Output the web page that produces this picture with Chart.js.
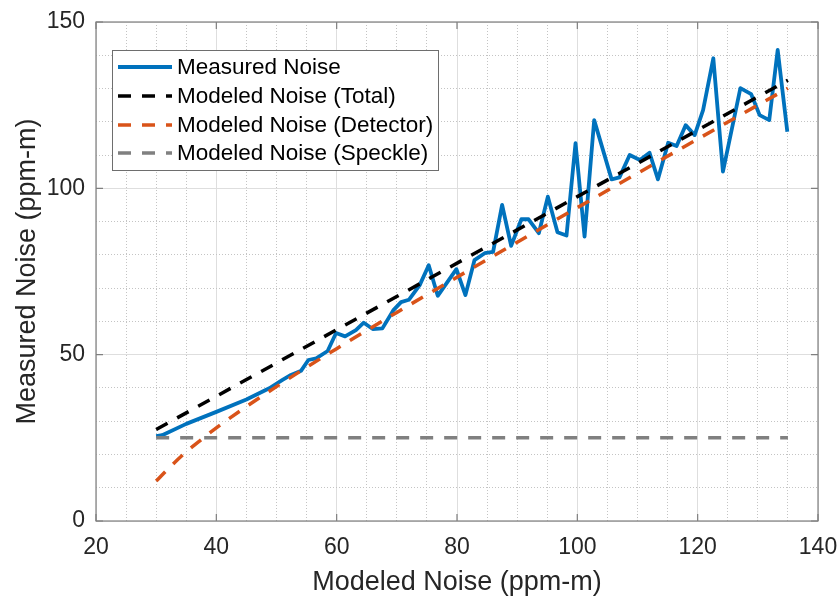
<!DOCTYPE html>
<html>
<head>
<meta charset="utf-8">
<script src="https://cdn.jsdelivr.net/npm/chart.js"></script>
<style>
  body { margin: 0; background: #fff; }
  #wrap { width: 838px; height: 599px; }
</style>
</head>
<body>
<div id="wrap"><canvas id="noiseChart" width="838" height="599"></canvas></div>
<script>
//===========================================================================================
// ~~ DATA ~~

var measuredX = [30, 31, 35, 40, 45, 48.8, 51, 52.4, 54.1, 55.3, 56.6, 58.5, 59.9, 61.4, 63.2,
  64.5, 66, 67.6, 69.4, 70.7, 72, 73.8, 75.3, 76.8, 79.9, 81.4, 82.9, 84.6, 86, 87.5,
  89, 90.7, 91.9, 93.6, 95.1, 96.7, 98.2, 99.7, 101.2, 102.8, 105.7, 107, 108.7, 110.4, 112,
  113.4, 115.1, 116.5, 118, 119.5, 120.9, 122.6, 124.2, 127.1, 128.9, 130.3, 131.9, 133.3, 134.9];
var measuredY = [25.5, 25.8, 29.2, 32.8, 36.5, 39.9, 42.4, 43.9, 45.2, 48.4, 48.9, 51.1, 56.5, 55.5, 57.4,
  59.6, 57.7, 57.9, 63.3, 65.8, 66.5, 70.9, 76.9, 67.7, 75.7, 67.9, 78.4, 80.5, 80.9, 95.0,
  82.7, 90.7, 90.7, 86.5, 97.5, 86.8, 85.8, 113.6, 85.5, 120.5, 102.7, 103.3, 110.0, 108.5, 110.7,
  102.7, 113.7, 112.7, 119.0, 116.0, 123.5, 139.1, 105.0, 130.1, 128.3, 122.0, 120.5, 141.6, 117.0];

var totalX = [30, 60, 100, 135];
var totalY = [27.5, 57.5, 97.5, 132.5];

var detectorX = [30, 32, 35, 38, 40, 45, 50, 55, 60, 70, 80, 90, 100, 120, 135];
var detectorY = [12, 15.7, 20.8, 25.2, 28.0, 34.4, 40.4, 46.2, 51.8, 62.7, 73.3, 83.8, 94.2, 114.8, 130.1];

var speckleX = [30, 135];
var speckleY = [25, 25];

var xTicks = [20, 40, 60, 80, 100, 120, 140];
var yTicks = [0, 50, 100, 150];

var seriesLabels = ["Measured Noise", "Modeled Noise (Total)", "Modeled Noise (Detector)", "Modeled Noise (Speckle)"];


//===========================================================================================
// ~~ HELPERS ~~

var FONT = "'Liberation Sans', Arial, Helvetica, sans-serif";
var TXT = '#262626';
var DASH = [13, 11];

function toPoints(xs, ys){
  var pts = [];
  for(var i = 0; i < xs.length; i++){
    pts.push({x: xs[i], y: ys[i]});
  }
  return pts;
}

function isMajor(ctx, list){
  return ctx.tick && list.indexOf(ctx.tick.value) >= 0;
}

// box round the axes + inward ticks, like matlab
var axesBox = {
  id: 'axesBox',
  afterDatasetsDraw: function(chart){
    var c = chart.ctx, a = chart.chartArea;
    var sx = chart.scales.x, sy = chart.scales.y;
    c.save();
    c.strokeStyle = '#7f7f7f';
    c.lineWidth = 1.2;
    c.setLineDash([]);
    c.strokeRect(a.left, a.top, a.right - a.left, a.bottom - a.top);
    c.beginPath();
    xTicks.forEach(function(v){
      var px = sx.getPixelForValue(v);
      c.moveTo(px, a.bottom); c.lineTo(px, a.bottom - 7);
      c.moveTo(px, a.top); c.lineTo(px, a.top + 7);
    });
    yTicks.forEach(function(v){
      var py = sy.getPixelForValue(v);
      c.moveTo(a.left, py); c.lineTo(a.left + 7, py);
      c.moveTo(a.right, py); c.lineTo(a.right - 7, py);
    });
    c.stroke();
    c.restore();
  }
};

// legend inside the axes, white box with frame
var boxLegend = {
  id: 'boxLegend',
  afterDraw: function(chart){
    var c = chart.ctx;
    var left = 112.5, top = 50.5, w = 326, h = 120;
    var rowY = [67, 96, 125, 153];
    c.save();
    c.fillStyle = '#fff';
    c.fillRect(left, top, w, h);
    c.strokeStyle = '#6e6e6e';
    c.lineWidth = 1;
    c.strokeRect(left, top, w, h);
    c.font = '22.5px ' + FONT;
    c.textBaseline = 'middle';
    c.textAlign = 'left';
    chart.data.datasets.forEach(function(ds, i){
      c.beginPath();
      c.strokeStyle = ds.borderColor;
      c.lineWidth = ds.borderWidth;
      c.lineCap = 'butt';
      c.setLineDash(ds.borderDash || []);
      c.moveTo(118, rowY[i]);
      c.lineTo(172, rowY[i]);
      c.stroke();
      c.setLineDash([]);
      c.fillStyle = '#000';
      c.fillText(ds.label, 177, rowY[i] + 1);
    });
    c.restore();
  }
};


//===========================================================================================
// ~~ CHART ~~

new Chart(document.getElementById('noiseChart'), {
  type: 'line',
  data: {
    datasets: [{
      label: seriesLabels[0],
      data: toPoints(measuredX, measuredY),
      borderColor: '#0072BD',
      borderWidth: 3.8,
      order: 4
    }, {
      label: seriesLabels[1],
      data: toPoints(totalX, totalY),
      borderColor: '#000000',
      borderWidth: 3.5,
      borderDash: DASH,
      order: 3
    }, {
      label: seriesLabels[2],
      data: toPoints(detectorX, detectorY),
      borderColor: '#D95319',
      borderWidth: 3.5,
      borderDash: DASH,
      cubicInterpolationMode: 'monotone',
      order: 2
    }, {
      label: seriesLabels[3],
      data: toPoints(speckleX, speckleY),
      borderColor: '#808080',
      borderWidth: 3.5,
      borderDash: DASH,
      order: 1
    }]
  },
  options: {
    responsive: false,
    animation: false,
    devicePixelRatio: 1,
    elements: {
      point: { radius: 0 },
      line: { tension: 0, borderCapStyle: 'butt', borderJoinStyle: 'round', fill: false }
    },
    layout: { padding: { top: 22, right: 20, left: 0, bottom: 0 } },
    plugins: {
      legend: { display: false },
      tooltip: { enabled: false }
    },
    scales: {
      x: {
        type: 'linear',
        min: 20, max: 140,
        afterFit: function(s){ s.height = 78; s.paddingLeft = 0; s.paddingRight = 0; },
        ticks: {
          stepSize: 5,
          autoSkip: false,
          maxRotation: 0,
          padding: 13,
          color: TXT,
          font: { family: FONT, size: 23 },
          callback: function(v){ return xTicks.indexOf(v) >= 0 ? v : ''; }
        },
        grid: {
          drawTicks: false,
          lineWidth: 1,
          color: function(ctx){ return isMajor(ctx, xTicks) ? '#dedede' : '#c4c4c4'; }
        },
        border: {
          display: false,
          dash: function(ctx){ return isMajor(ctx, xTicks) ? [] : [1, 2]; }
        },
        title: {
          display: true,
          text: 'Modeled Noise (ppm-m)',
          color: TXT,
          font: { family: FONT, size: 27 },
          padding: { top: 0, bottom: 0 }
        }
      },
      y: {
        min: 0, max: 150,
        afterFit: function(s){ s.width = 96; s.paddingTop = 0; s.paddingBottom = 0; },
        ticks: {
          stepSize: 10,
          autoSkip: false,
          padding: 11,
          color: TXT,
          font: { family: FONT, size: 23 },
          callback: function(v){ return yTicks.indexOf(v) >= 0 ? v : ''; }
        },
        grid: {
          drawTicks: false,
          lineWidth: 1,
          color: function(ctx){ return isMajor(ctx, yTicks) ? '#dedede' : '#c4c4c4'; }
        },
        border: {
          display: false,
          dash: function(ctx){ return isMajor(ctx, yTicks) ? [] : [1, 2]; }
        },
        title: {
          display: true,
          text: 'Measured Noise (ppm-m)',
          color: TXT,
          font: { family: FONT, size: 27 },
          padding: { top: 11, bottom: 0 }
        }
      }
    }
  },
  plugins: [axesBox, boxLegend]
});
</script>
</body>
</html>
